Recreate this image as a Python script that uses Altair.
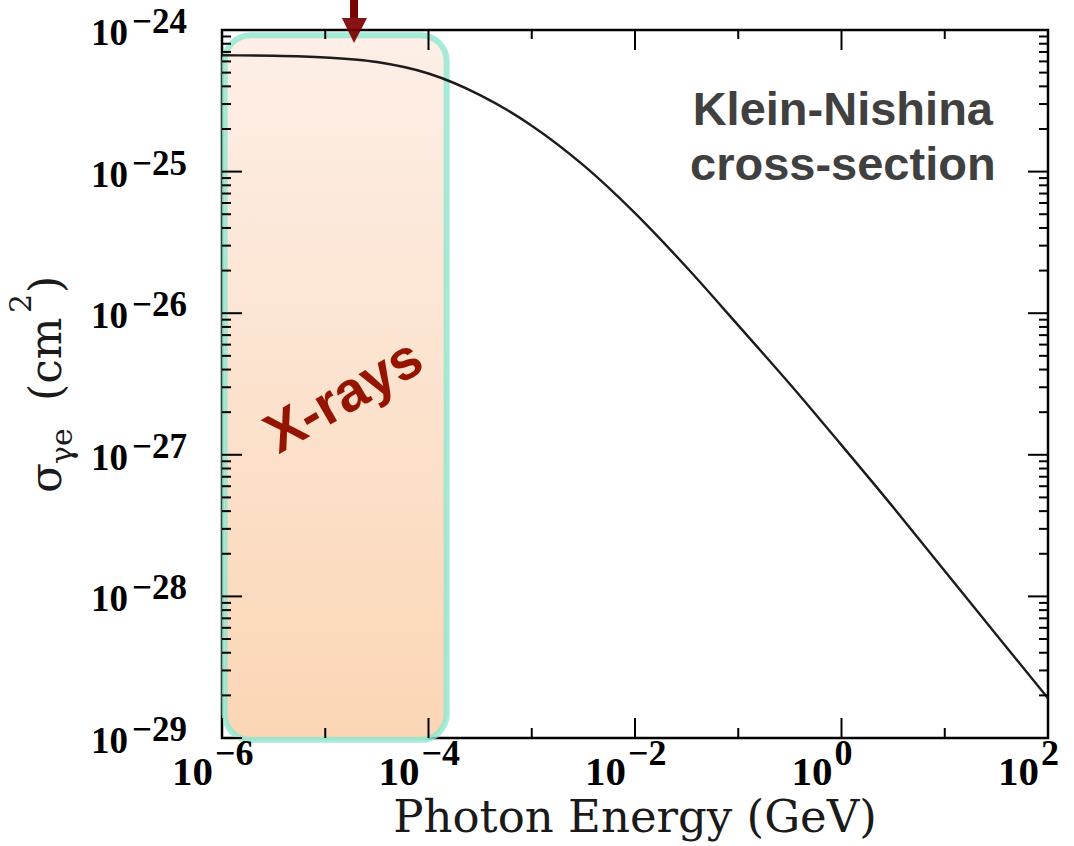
import altair as alt
import pandas as pd

# Klein-Nishina cross-section versus photon energy (half-decade steps)
energy_gev = [1e-6, 3.16e-6, 1e-5, 3.16e-5, 1e-4, 3.16e-4, 1e-3, 3.16e-3,
              1e-2, 3.16e-2, 1e-1, 3.16e-1, 1.0, 3.16, 10.0, 31.6, 100.0]
sigma_cm2 = [6.63e-25, 6.58e-25, 6.40e-25, 5.94e-25, 4.93e-25, 3.47e-25,
             2.11e-25, 1.11e-25, 5.09e-26, 2.11e-26, 8.20e-27, 3.16e-27,
             1.17e-27, 4.27e-28, 1.51e-28, 5.37e-29, 1.91e-29]

# axis ticks and labels
x_major = [1e-6, 1e-4, 1e-2, 1e0, 1e2]
x_minor = [1e-5, 1e-3, 1e-1, 1e1]
x_label_exp = ["\u22126", "\u22124", "\u22122", "0", "2"]
y_major = [1e-29, 1e-28, 1e-27, 1e-26, 1e-25, 1e-24]
y_label_exp = ["\u221229", "\u221228", "\u221227", "\u221226", "\u221225", "\u221224"]
y_minor = [k * d for d in [1e-29, 1e-28, 1e-27, 1e-26, 1e-25] for k in range(2, 10)]

# X-ray band and the arrow marking it from above
xray_band = {"e0": 1.06e-6, "e1": 1.50e-4, "s0": 9.2e-25, "s1": 9.7e-30}
arrow_energy = 1.9e-5
arrow_head_e = [1.45e-5, 1.9e-5, 2.54e-5]
arrow_head_top = [1.216e-24, 1.216e-24, 1.216e-24]
arrow_head_tip = [1.216e-24, 8.09e-25, 1.216e-24]

X_MIN, X_MAX = 1e-6, 1e2
Y_MIN, Y_MAX = 1e-29, 1e-24
XS = alt.Scale(type="log", domain=[X_MIN, X_MAX], nice=False)
YS = alt.Scale(type="log", domain=[Y_MIN, Y_MAX], nice=False)

LABEL_FONT = "Liberation Serif"
TITLE_FONT = "DejaVu Serif"


def X(field):
    return alt.X(field, type="quantitative", scale=XS, axis=None)


def Y(field):
    return alt.Y(field, type="quantitative", scale=YS, axis=None)


def XD(v):
    return alt.XDatum(v, type="quantitative", scale=XS, axis=None)


def YD(v):
    return alt.YDatum(v, type="quantitative", scale=YS, axis=None)


curve_df = pd.DataFrame({"e": energy_gev, "s": sigma_cm2})

# shaded X-ray band with rounded corners
band = alt.Chart(pd.DataFrame([xray_band])).mark_rect(
    cornerRadius=26,
    fill=alt.LinearGradient(
        gradient="linear",
        stops=[alt.GradientStop(offset=0, color="#fdefe7"),
               alt.GradientStop(offset=1, color="#fbd6b5")],
        x1=0, x2=0, y1=0, y2=1,
    ),
    stroke="#8fe6d0",
    strokeWidth=6,
    strokeOpacity=0.8,
).encode(x=X("e0"), x2="e1", y=Y("s0"), y2="s1")

curve = alt.Chart(curve_df).mark_line(
    color="#1c1c1c", strokeWidth=2.4, interpolate="monotone"
).encode(x=X("e"), y=Y("s"))


def x_ticks(vals, edge, length):
    return alt.Chart(pd.DataFrame({"v": vals})).mark_rule(
        color="black", strokeWidth=2, y2Offset=length
    ).encode(x=X("v"), y=YD(edge), y2=alt.Y2Datum(edge))


def y_ticks(vals, edge, length):
    return alt.Chart(pd.DataFrame({"v": vals})).mark_rule(
        color="black", strokeWidth=2, x2Offset=length
    ).encode(y=Y("v"), x=XD(edge), x2=alt.X2Datum(edge))


ticks = [
    x_ticks(x_major, Y_MIN, -20), x_ticks(x_minor, Y_MIN, -10),
    x_ticks(x_major, Y_MAX, 20), x_ticks(x_minor, Y_MAX, 9),
    y_ticks(y_major, X_MIN, 20), y_ticks(y_minor, X_MIN, 9),
    y_ticks(y_major, X_MAX, -20), y_ticks(y_minor, X_MAX, -9),
]

xlab_df = pd.DataFrame({"v": x_major, "b": ["10"] * 5, "p": x_label_exp})
ylab_df = pd.DataFrame({"v": y_major, "b": ["10"] * 6, "p": y_label_exp})

x_base = alt.Chart(xlab_df).mark_text(
    font=LABEL_FONT, fontWeight="bold", fontSize=41, align="right",
    baseline="alphabetic", dx=-9, dy=47, color="black"
).encode(x=X("v"), y=YD(Y_MIN), text="b:N")
x_pow = alt.Chart(xlab_df).mark_text(
    font=LABEL_FONT, fontWeight="bold", fontSize=36, align="left",
    baseline="alphabetic", dx=-7, dy=27, color="black"
).encode(x=X("v"), y=YD(Y_MIN), text="p:N")
y_base = alt.Chart(ylab_df).mark_text(
    font=LABEL_FONT, fontWeight="bold", fontSize=37, align="right",
    baseline="alphabetic", dx=-94, dy=15, color="black"
).encode(x=XD(X_MIN), y=Y("v"), text="b:N")
y_pow = alt.Chart(ylab_df).mark_text(
    font=LABEL_FONT, fontWeight="bold", fontSize=35, align="left",
    baseline="alphabetic", dx=-90, dy=3, color="black"
).encode(x=XD(X_MIN), y=Y("v"), text="p:N")

# x-axis title
x_title = alt.Chart(pd.DataFrame({"t": ["Photon Energy (GeV)"]})).mark_text(
    font=TITLE_FONT, fontSize=45, align="center", baseline="alphabetic",
    dy=94, color="#1a1a1a"
).encode(x=XD(1.0e-2), y=YD(Y_MIN), text="t:N")

# y-axis title, rotated, built from pieces for the sub/superscripts
y_title_anchor = 5.37e-28
y_title_parts = pd.DataFrame({
    "t": ["\u03c3", "\u03b3e", "(cm", "2", ")"],
    "dx": [0, 29, 92, 180, 200],
    "dy": [-161, -150, -161, -191, -161],
    "size": [44, 30, 44, 30, 44],
})
y_title = alt.layer(*[
    alt.Chart(pd.DataFrame({"t": [r.t]})).mark_text(
        font=TITLE_FONT, fontSize=int(r.size), angle=270, align="left",
        baseline="alphabetic", dx=int(r.dx), dy=int(r.dy), color="#1a1a1a"
    ).encode(x=XD(X_MIN), y=YD(y_title_anchor), text="t:N")
    for r in y_title_parts.itertuples()
])

kn_label = alt.Chart(pd.DataFrame({"t": ["Klein-Nishina\ncross-section"]})).mark_text(
    font="Liberation Sans", fontWeight="bold", fontSize=47, lineBreak="\n",
    lineHeight=55, align="center", baseline="alphabetic", color="#404040"
).encode(x=XD(1.03), y=YD(2.13e-25), text="t:N")

xray_label = alt.Chart(pd.DataFrame({"t": ["X-rays"]})).mark_text(
    font="Liberation Sans", fontWeight="bold", fontSize=56, angle=330,
    align="center", baseline="middle", color="#941400"
).encode(x=XD(1.52e-5), y=YD(2.56e-27), text="t:N")

arrow_shaft = alt.Chart(pd.DataFrame({"e": [arrow_energy]})).mark_rule(
    color="#7d0000", strokeWidth=8
).encode(x=X("e"), y=YD(1.63e-24), y2=alt.Y2Datum(1.216e-24))
arrow_head = alt.Chart(pd.DataFrame({
    "e": arrow_head_e, "top": arrow_head_top, "tip": arrow_head_tip
})).mark_area(color="#7d0000", opacity=0.92, interpolate="linear").encode(
    x=X("e"), y=Y("top"), y2="tip"
)

chart = alt.layer(
    band, curve, *ticks, arrow_shaft, arrow_head,
    x_base, x_pow, y_base, y_pow, x_title, y_title, kn_label, xray_label,
).properties(
    width=826, height=708,
    autosize=alt.AutoSizeParams(type="none"),
    padding={"left": 222, "top": 30, "right": 26, "bottom": 108},
    background="white",
).configure_view(stroke="black", strokeWidth=2.5)

chart.save("out.html", embed_options={"renderer": "svg", "actions": False})
